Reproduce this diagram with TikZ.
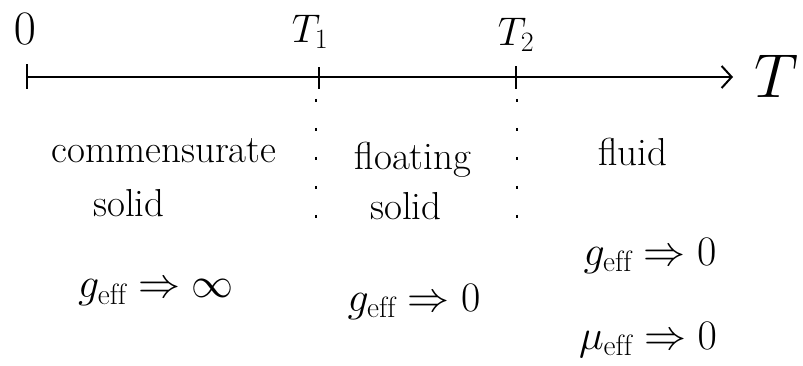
\RequirePackage{fix-cm}
\documentclass[tikz,border=0pt]{standalone}
\usepackage{fontspec}
\usetikzlibrary{arrows.meta}
\begin{document}
\begin{tikzpicture}[x=1pt,y=-1pt,
  lbl/.style={inner sep=0pt,font=\fontsize{39}{44}\selectfont},
  mlbl/.style={inner sep=0pt,font=\fontsize{42}{46}\selectfont},
  tlbl/.style={inner sep=0pt,font=\fontsize{40}{44}\selectfont},
  axis/.style={line width=2.2pt,-{Straight Barb[length=10pt,width=22pt,line width=2pt]}},
  tick/.style={line width=2pt},
  sep/.style={line width=2.6pt,dash pattern=on 3pt off 26pt}]
\useasboundingbox (0,0) rectangle (803,366);
\fill[white] (0,0) rectangle (803,366);
% axis
\coordinate (A0) at (27,77);
\coordinate (AE) at (733,77);
\coordinate (P1) at (319,77);
\coordinate (P2) at (516,77);
\draw[axis] (A0) -- (AE);
\draw[tick] ([yshift=-12pt]A0) -- ([yshift=13pt]A0);
\draw[tick] ([yshift=-12pt]P1) -- ([yshift=10pt]P1);
\draw[tick] ([yshift=-12pt]P2) -- ([yshift=11pt]P2);
\node[inner sep=0pt,font=\fontsize{48}{52}\selectfont] (zero) at (25,29) {$0$};
\node[tlbl] (t1) at (310,32) {$T_1$};
\node[tlbl] (t2) at (516,35) {$T_2$};
\node[inner sep=0pt,font=\fontsize{62}{66}\selectfont] (tt) at (776,76) {$T$};
% separators
\coordinate (S1a) at (316,99);
\coordinate (S1b) at (316,218);
\coordinate (S2a) at (517,99);
\coordinate (S2b) at (517,218);
\draw[sep] (S1a) -- (S1b);
\draw[sep] (S2a) -- (S2b);
% phases
\node[lbl] (comm) at (164,151) {commensurate};
\node[lbl] (csol) at (129,203) {solid};
\node[lbl] (float) at (413,160) {floating};
\node[lbl] (fsol) at (406,206) {solid};
\node[lbl] (fluid) at (633,152) {fluid};
% effective couplings
\node[mlbl] (g1) at (156,293) {$g_{\mathrm{eff}}\Rightarrow\infty$};
\node[mlbl] (g2) at (414,302) {$g_{\mathrm{eff}}\Rightarrow 0$};
\node[mlbl] (g3) at (650,256) {$g_{\mathrm{eff}}\Rightarrow 0$};
\node[mlbl] (m3) at (648,340) {$\mu_{\mathrm{eff}}\Rightarrow 0$};
\end{tikzpicture}
\end{document}
